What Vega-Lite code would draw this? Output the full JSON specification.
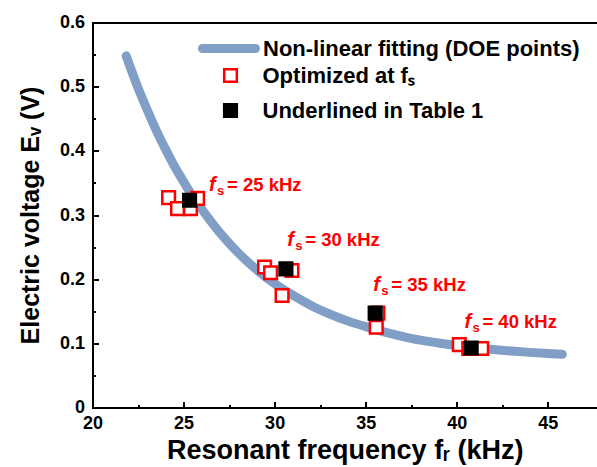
{
  "$schema": "https://vega.github.io/schema/vega-lite/v6.json",
  "width": 504.5,
  "height": 385,
  "autosize": {"type": "none"},
  "padding": {"left": 92.5, "top": 22.5, "right": 0, "bottom": 59.5},
  "background": "white",
  "config": {
    "view": {"stroke": null},
    "font": "Liberation Sans",
    "axis": {
      "grid": false,
      "labelFont": "Liberation Sans",
      "labelFontWeight": "bold",
      "labelFontSize": 18,
      "labelColor": "black",
      "labelFlush": false,
      "labelOverlap": false,
      "titleFont": "Liberation Sans",
      "titleFontWeight": "bold",
      "titleColor": "black",
      "domainColor": "black",
      "domainWidth": 2,
      "domainCap": "square",
      "tickColor": "black",
      "tickWidth": 2
    },
    "legend": {
      "labelFont": "Liberation Sans",
      "labelFontWeight": "bold",
      "labelFontSize": 22,
      "labelColor": "black",
      "labelLimit": 400,
      "padding": 0
    }
  },
  "datasets": {
    "curve": [
      {"f": 21.85, "v": 0.548}, {"f": 22.5, "v": 0.498}, {"f": 23, "v": 0.464},
      {"f": 23.5, "v": 0.432}, {"f": 24, "v": 0.403}, {"f": 24.5, "v": 0.376},
      {"f": 25, "v": 0.352}, {"f": 25.5, "v": 0.329}, {"f": 26, "v": 0.309},
      {"f": 27, "v": 0.272}, {"f": 28, "v": 0.241}, {"f": 29, "v": 0.215},
      {"f": 30, "v": 0.193}, {"f": 31, "v": 0.175}, {"f": 32, "v": 0.159},
      {"f": 33, "v": 0.146}, {"f": 34, "v": 0.135}, {"f": 35, "v": 0.126},
      {"f": 36, "v": 0.118}, {"f": 37, "v": 0.111}, {"f": 38, "v": 0.105},
      {"f": 39, "v": 0.1006}, {"f": 40, "v": 0.0966}, {"f": 41, "v": 0.0932},
      {"f": 42, "v": 0.0904}, {"f": 43, "v": 0.088}, {"f": 44, "v": 0.0859},
      {"f": 45, "v": 0.0842}, {"f": 45.8, "v": 0.0831}
    ],
    "points": [
      {"series": "Optimized at fₛ", "f": 24.18, "v": 0.327},
      {"series": "Optimized at fₛ", "f": 24.67, "v": 0.31},
      {"series": "Optimized at fₛ", "f": 25.38, "v": 0.31},
      {"series": "Optimized at fₛ", "f": 25.77, "v": 0.326},
      {"series": "Optimized at fₛ", "f": 29.45, "v": 0.219},
      {"series": "Optimized at fₛ", "f": 29.78, "v": 0.21},
      {"series": "Optimized at fₛ", "f": 30.95, "v": 0.2135},
      {"series": "Optimized at fₛ", "f": 30.41, "v": 0.1745},
      {"series": "Optimized at fₛ", "f": 35.67, "v": 0.147},
      {"series": "Optimized at fₛ", "f": 35.58, "v": 0.125},
      {"series": "Optimized at fₛ", "f": 40.14, "v": 0.098},
      {"series": "Optimized at fₛ", "f": 40.66, "v": 0.092},
      {"series": "Optimized at fₛ", "f": 41.37, "v": 0.092},
      {"series": "Underlined in Table 1", "f": 25.33, "v": 0.323},
      {"series": "Underlined in Table 1", "f": 30.62, "v": 0.216},
      {"series": "Underlined in Table 1", "f": 35.52, "v": 0.147},
      {"series": "Underlined in Table 1", "f": 40.79, "v": 0.0927}
    ],
    "notes": [
      {"f": 26.4, "v": 0.347, "label": "= 25 kHz"},
      {"f": 30.69, "v": 0.261, "label": "= 30 kHz"},
      {"f": 35.42, "v": 0.191, "label": "= 35 kHz"},
      {"f": 40.42, "v": 0.133, "label": "= 40 kHz"}
    ]
  },
  "layer": [
    {
      "data": {"name": "curve"},
      "mark": {"type": "line", "strokeWidth": 9, "strokeCap": "round", "strokeJoin": "round", "interpolate": "monotone"},
      "encoding": {
        "x": {
          "field": "f", "type": "quantitative",
          "scale": {"domain": [20, 47.7], "nice": false, "zero": false},
          "axis": {
            "orient": "bottom",
            "values": [20, 25, 30, 35, 40, 45],
            "tickSize": -6,
            "labelPadding": 13,
            "labelFontWeight": "bold",
            "title": "Resonant frequency fᵣ (kHz)",
            "titleFontSize": 27,
            "titlePadding": 5
          }
        },
        "y": {
          "field": "v", "type": "quantitative",
          "scale": {"domain": [0, 0.6], "nice": false, "zero": false},
          "axis": {
            "orient": "left",
            "values": [0, 0.1, 0.2, 0.3, 0.4, 0.5, 0.6],
            "format": ".1~f",
            "tickSize": -6,
            "labelPadding": 14,
            "labelFontWeight": "bold",
            "title": "Electric voltage Eᵥ (V)",
            "titleFontSize": 25,
            "titlePadding": 16
          }
        },
        "color": {
          "datum": "Non-linear fitting (DOE points)",
          "type": "nominal",
          "scale": {"domain": ["Non-linear fitting (DOE points)"], "range": ["#819fc6"]},
          "legend": {
            "orient": "none",
            "legendX": 105.5,
            "legendY": -5,
            "title": null,
            "symbolType": "stroke",
            "symbolSize": 2809,
            "symbolStrokeWidth": 9,
            "labelOffset": 3,
            "encode": {"symbols": {"update": {"strokeCap": {"value": "round"}}}}
          }
        }
      }
    },
    {
      "data": {"name": "points"},
      "mark": {"type": "point", "shape": "square", "size": 160, "strokeWidth": 2.5, "filled": true, "opacity": 1, "fillOpacity": 1, "strokeOpacity": 1},
      "encoding": {
        "x": {
          "field": "f", "type": "quantitative",
          "scale": {"domain": [20, 47.7], "nice": false, "zero": false},
          "axis": {"orient": "top", "labels": false, "ticks": false, "title": null}
        },
        "y": {
          "field": "v", "type": "quantitative",
          "scale": {"domain": [0, 0.6], "nice": false, "zero": false},
          "axis": null
        },
        "fill": {
          "field": "series", "type": "nominal",
          "scale": {"domain": ["Optimized at fₛ", "Underlined in Table 1"], "range": ["white", "black"]},
          "legend": {
            "orient": "none", "legendX": 127, "legendY": 42, "title": null,
            "symbolType": "square", "symbolSize": 160, "symbolStrokeWidth": 2.5,
            "symbolOpacity": 1, "labelOffset": 21, "rowPadding": 11
          }
        },
        "stroke": {
          "field": "series", "type": "nominal",
          "scale": {"domain": ["Optimized at fₛ", "Underlined in Table 1"], "range": ["#ff0000", "black"]},
          "legend": {
            "orient": "none", "legendX": 127, "legendY": 42, "title": null,
            "symbolType": "square", "symbolSize": 160, "symbolStrokeWidth": 2.5,
            "symbolOpacity": 1, "labelOffset": 21, "rowPadding": 11
          }
        }
      }
    },
    {
      "data": {"name": "notes"},
      "mark": {"type": "text", "text": "f", "font": "Liberation Sans", "fontWeight": "bold", "fontStyle": "italic", "fontSize": 20, "color": "#ff0000", "align": "left", "baseline": "middle"},
      "encoding": {
        "x": {
          "field": "f", "type": "quantitative",
          "scale": {"domain": [20, 47.7], "nice": false, "zero": false},
          "axis": {"orient": "bottom", "values": [22.5, 27.5, 32.5, 37.5, 42.5], "labels": false, "domain": false, "tickSize": -3, "title": null}
        },
        "y": {
          "field": "v", "type": "quantitative",
          "scale": {"domain": [0, 0.6], "nice": false, "zero": false},
          "axis": {"orient": "left", "values": [0.05, 0.15, 0.25, 0.35, 0.45, 0.55], "labels": false, "domain": false, "tickSize": -3, "title": null}
        }
      }
    },
    {
      "data": {"name": "notes"},
      "mark": {"type": "text", "text": "s", "font": "Liberation Sans", "fontWeight": "bold", "fontSize": 13, "color": "#ff0000", "align": "left", "baseline": "middle", "dx": 8, "dy": 6},
      "encoding": {
        "x": {"field": "f", "type": "quantitative", "scale": {"domain": [20, 47.7], "nice": false, "zero": false}, "axis": null},
        "y": {"field": "v", "type": "quantitative", "scale": {"domain": [0, 0.6], "nice": false, "zero": false}, "axis": null}
      }
    },
    {
      "data": {"name": "notes"},
      "mark": {"type": "text", "font": "Liberation Sans", "fontWeight": "bold", "fontSize": 18.5, "color": "#ff0000", "align": "left", "baseline": "middle", "dx": 18},
      "encoding": {
        "x": {"field": "f", "type": "quantitative", "scale": {"domain": [20, 47.7], "nice": false, "zero": false}, "axis": null},
        "y": {"field": "v", "type": "quantitative", "scale": {"domain": [0, 0.6], "nice": false, "zero": false}, "axis": null},
        "text": {"field": "label", "type": "nominal"}
      }
    }
  ],
  "resolve": {"axis": {"x": "independent", "y": "independent"}}
}
